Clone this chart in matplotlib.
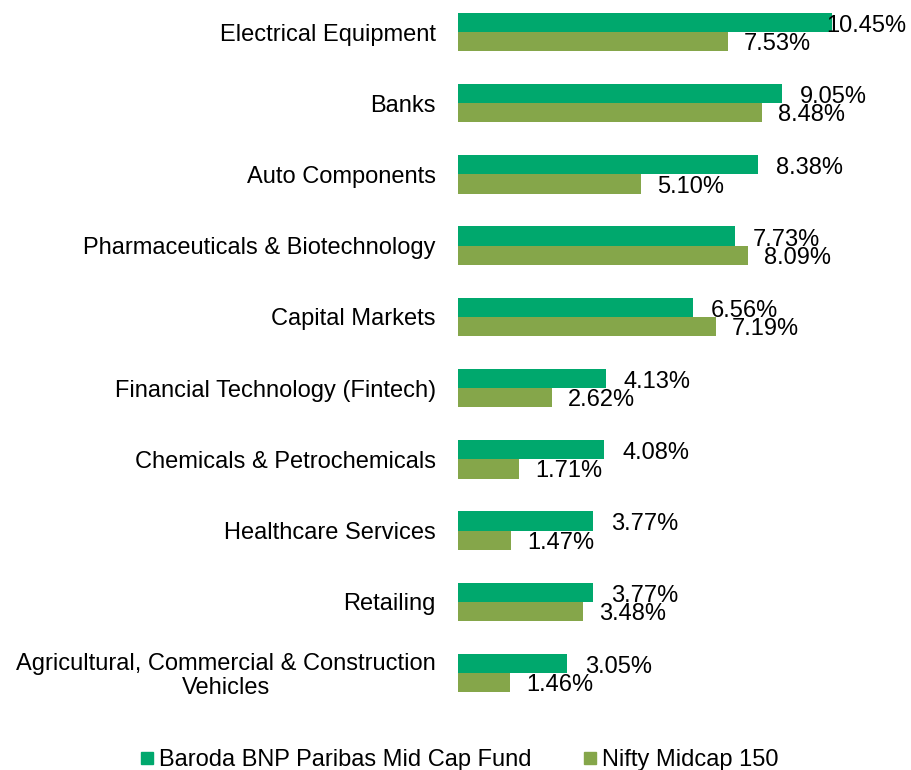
import matplotlib
matplotlib.use("Agg")
import matplotlib.pyplot as plt
from matplotlib.lines import Line2D
import numpy as np

plt.rcParams['font.family'] = ['Liberation Sans', 'DejaVu Sans']

# data
sectors = ['Electrical Equipment', 'Banks', 'Auto Components',
           'Pharmaceuticals & Biotechnology', 'Capital Markets',
           'Financial Technology (Fintech)', 'Chemicals & Petrochemicals',
           'Healthcare Services', 'Retailing',
           'Agricultural, Commercial & Construction\nVehicles']
fund = [10.45, 9.05, 8.38, 7.73, 6.56, 4.13, 4.08, 3.77, 3.77, 3.05]
index = [7.53, 8.48, 5.10, 8.09, 7.19, 2.62, 1.71, 1.47, 3.48, 1.46]
series_names = ['Baroda BNP Paribas Mid Cap Fund', 'Nifty Midcap 150']

c_fund = '#00A86D'
c_index = '#85A64A'
fs = 17

fig = plt.figure(figsize=(9.11, 7.70), dpi=100)
ax = fig.add_axes([458/911, 1 - 710/770, 430/911, 710/770])

y = np.arange(len(sectors))
h = 0.27
ax.barh(y - h/2, fund, height=h, color=c_fund)
ax.barh(y + h/2, index, height=h, color=c_index)

ax.set_xlim(0, 12)
ax.set_ylim(9.52, -0.45)
ax.set_yticks(y)
ax.set_yticklabels(sectors, fontsize=fs, linespacing=1.1)
for t in ax.get_yticklabels():
    t.set_multialignment('center')
ax.tick_params(axis='y', length=0, pad=16)
ax.set_xticks([])
for s in ax.spines.values():
    s.set_visible(False)

# value labels (overlap like the original Excel chart)
texts = []
for i in range(len(sectors)):
    t1 = ax.text(fund[i] + 0.5, y[i] - h/2 + 0.05, f'{fund[i]:.2f}%',
                 fontsize=fs, va='center', ha='left')
    t2 = ax.text(index[i] + 0.45, y[i] + h/2 + 0.035, f'{index[i]:.2f}%',
                 fontsize=fs, va='center', ha='left')
    texts += [t1, t2]

# keep labels inside the figure
fig.canvas.draw()
r = fig.canvas.get_renderer()
W = fig.bbox.width
for t in texts:
    bb = t.get_window_extent(r)
    if bb.x1 > W - 5:
        dx = bb.x1 - (W - 5)
        x0, y0 = t.get_position()
        x_pix = ax.transData.transform((x0, y0))[0] - dx
        t.set_x(ax.transData.inverted().transform((x_pix, 0))[0])

handles = [Line2D([], [], marker='s', ls='none', color=c_fund, markersize=9),
           Line2D([], [], marker='s', ls='none', color=c_index, markersize=9)]
fig.legend(handles, series_names, loc='center', ncol=2, frameon=False,
           fontsize=fs, bbox_to_anchor=(459/911, 1 - 760/770),
           handlelength=0.6, handletextpad=0.2, columnspacing=2.2)

fig.savefig('out.png', dpi=100)
